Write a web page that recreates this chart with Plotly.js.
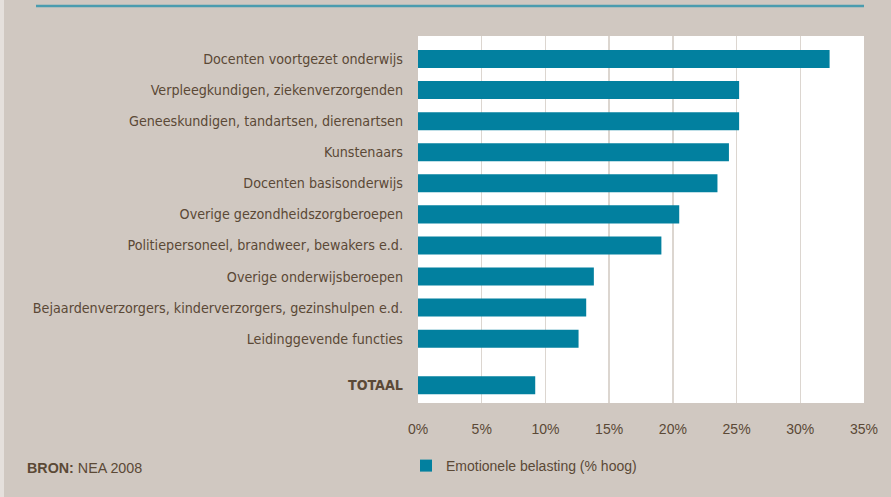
<!DOCTYPE html>
<html><head><meta charset="utf-8">
<script src="https://cdn.plot.ly/plotly-3.0.1.min.js"></script>
<style>html,body{margin:0;padding:0;background:#d0c8c1;}#chart{width:891px;height:497px;}</style>
</head><body><div id="chart"></div>
<script>
// ---- data ----
const categories = [
  "Docenten voortgezet onderwijs",
  "Verpleegkundigen, ziekenverzorgenden",
  "Geneeskundigen, tandartsen, dierenartsen",
  "Kunstenaars",
  "Docenten basisonderwijs",
  "Overige gezondheidszorgberoepen",
  "Politiepersoneel, brandweer, bewakers e.d.",
  "Overige onderwijsberoepen",
  "Bejaardenverzorgers, kinderverzorgers, gezinshulpen e.d.",
  "Leidinggevende functies"
];
const values = [32.3, 25.2, 25.2, 24.4, 23.5, 20.5, 19.1, 13.8, 13.2, 12.6];
const totalLabel = "TOTAAL";
const totalValue = 9.2;
const seriesName = "Emotionele belasting (% hoog)";
const xTickVals = [0, 5, 10, 15, 20, 25, 30, 35];
const xTickText = ["0%", "5%", "10%", "15%", "20%", "25%", "30%", "35%"];
const sourceText = "<b>BRON:</b> NEA 2008";

// ---- layout helpers ----
const W = 891, H = 497;
const M = {l: 418, r: 27, t: 36, b: 94};
const pw = W - M.l - M.r, ph = H - M.t - M.b;
const px = x => (x - M.l) / pw;
const py = y => (H - M.b - y) / ph;

const pos = categories.map((c, i) => i);
const totalPos = categories.length + 0.5;

const barColor = "#02809f";
const textColor = "#5b4936";

const traces = [{
  type: "bar", orientation: "h",
  x: values.concat([totalValue]),
  y: pos.concat([totalPos]),
  width: 0.58,
  marker: {color: barColor},
  name: seriesName, showlegend: true,
  hoverinfo: "x"
}];

const layout = {
  width: W, height: H,
  margin: M,
  paper_bgcolor: "#d0c8c1",
  plot_bgcolor: "#ffffff",
  font: {family: "Liberation Sans, Arial, sans-serif", color: textColor, size: 14},
  xaxis: {
    range: [0, 35], tickvals: xTickVals, ticktext: xTickText,
    showgrid: true, gridcolor: "#dcd6d0", gridwidth: 1.5,
    zeroline: false, showline: false, ticks: "", ticklabelstandoff: 16,
    tickfont: {family: "Liberation Sans, Arial, sans-serif", size: 14, color: textColor},
    fixedrange: true
  },
  yaxis: {
    range: [totalPos + 0.57, -0.74],
    tickvals: pos.concat([totalPos]),
    ticktext: categories.concat(["<b>" + totalLabel + "</b>"]),
    showgrid: false, zeroline: false, showline: false, ticks: "",
    ticklabelstandoff: 14,
    tickfont: {family: "DejaVu Sans Condensed, sans-serif", size: 14.2, color: textColor},
    fixedrange: true
  },
  showlegend: true,
  legend: {
    orientation: "h", x: px(406), y: py(466), xanchor: "left", yanchor: "middle",
    bgcolor: "rgba(0,0,0,0)",
    font: {family: "Liberation Sans, Arial, sans-serif", size: 14, color: textColor}
  },
  annotations: [{
    xref: "paper", yref: "paper", x: px(25), y: py(468),
    xanchor: "left", yanchor: "middle", showarrow: false,
    text: sourceText,
    font: {family: "Liberation Sans, Arial, sans-serif", size: 14.3, color: textColor}
  }],
  shapes: [
    {type: "line", xref: "paper", yref: "paper", x0: px(36), x1: px(864), y0: py(6), y1: py(6),
     line: {color: "#4a9caf", width: 2.5}},
    {type: "rect", xref: "paper", yref: "paper", x0: px(0), x1: px(4), y0: py(0), y1: py(H),
     fillcolor: "#e5e0dc", line: {width: 0}, layer: "below"}
  ]
};

Plotly.newPlot("chart", traces, layout, {displayModeBar: false, staticPlot: true});
</script></body></html>
